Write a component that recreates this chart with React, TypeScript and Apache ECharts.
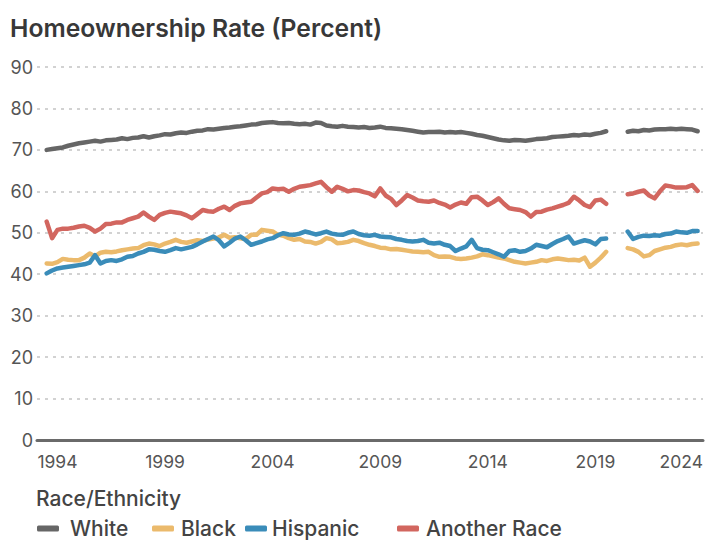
import React, { useEffect, useRef } from "react";
import * as echarts from "echarts";

// ---- data ----
const seriesNames = ["White", "Black", "Hispanic", "Another Race"];
const seriesColors = ["#666666", "#EBBA6C", "#3A8CB9", "#D2665F"];
const tickYears = [1994, 1999, 2004, 2009, 2014, 2019, 2024];

// Quarterly categories 1994Q1 .. 2024Q2
const quarters: string[] = [];
for (let y = 1994; y <= 2024; y++) {
  for (let q = 1; q <= 4; q++) {
    if (y === 2024 && q > 2) break;
    quarters.push(`${y}Q${q}`);
  }
}

const white = [
  70.0, 70.2, 70.4, 70.6,
  71.0, 71.3, 71.6, 71.8,
  72.0, 72.2, 72.0, 72.3,
  72.4, 72.5, 72.8, 72.6,
  72.9, 73.0, 73.3, 73.0,
  73.3, 73.5, 73.8, 73.7,
  74.0, 74.2, 74.1, 74.4,
  74.6, 74.7, 75.0, 74.9,
  75.1, 75.3, 75.4, 75.6,
  75.7, 75.9, 76.1, 76.2,
  76.5, 76.6, 76.7, 76.5,
  76.4, 76.5, 76.3, 76.2,
  76.3, 76.1, 76.6, 76.5,
  75.9, 75.7, 75.6, 75.8,
  75.6, 75.5, 75.4, 75.5,
  75.3, 75.4, 75.6, 75.3,
  75.2, 75.1, 75.0, 74.8,
  74.6, 74.4, 74.2, 74.3,
  74.3, 74.4, 74.2, 74.3,
  74.2, 74.3, 74.1, 73.9,
  73.6, 73.4, 73.1, 72.8,
  72.5, 72.3, 72.2, 72.4,
  72.3, 72.2, 72.4, 72.6,
  72.7, 72.8, 73.1, 73.2,
  73.3, 73.4, 73.6, 73.5,
  73.7, 73.6, 73.9, 74.1,
  74.5, null, null, null,
  74.4, 74.6, 74.5, 74.8,
  74.7, 74.9, 75.0, 75.0,
  75.1, 75.0, 75.1, 75.0,
  74.9, 74.5,
];

const black = [
  42.6, 42.5, 42.9, 43.7,
  43.5, 43.4, 43.4, 44.0,
  45.0, 44.3, 45.2, 45.4,
  45.3, 45.5, 45.8, 46.0,
  46.2, 46.3, 47.0, 47.4,
  47.2, 46.8, 47.4, 47.8,
  48.3, 47.8, 47.6, 47.9,
  48.2, 48.0, 48.4, 48.6,
  48.9, 49.5, 48.8, 48.9,
  48.7, 48.5, 49.5, 49.5,
  50.7, 50.5, 50.3, 49.5,
  49.3, 48.7, 48.3, 48.5,
  47.9, 47.8, 47.4, 47.8,
  48.7, 48.4, 47.5, 47.6,
  47.8, 48.3, 48.0, 47.5,
  47.1, 46.8, 46.4, 46.3,
  46.0, 46.1, 45.9, 45.7,
  45.5, 45.4, 45.3, 45.4,
  44.6, 44.2, 44.3, 44.2,
  43.8, 43.7, 43.8, 44.0,
  44.3, 44.8, 44.6, 44.3,
  44.0, 43.8, 43.4, 43.0,
  42.8, 42.6, 42.8, 43.0,
  43.4, 43.2, 43.6, 43.8,
  43.6, 43.4, 43.5, 43.3,
  44.0, 41.8, 42.8, 44.0,
  45.4, null, null, null,
  46.3, 46.0, 45.4, 44.3,
  44.6, 45.6, 46.0, 46.4,
  46.6, 47.0, 47.2, 47.0,
  47.3, 47.4,
];

const hispanic = [
  40.2, 40.9, 41.4, 41.6,
  41.8, 42.0, 42.2, 42.4,
  42.8, 44.6, 42.6, 43.2,
  43.4, 43.2, 43.6, 44.2,
  44.4, 45.0, 45.4, 46.0,
  45.9, 45.6, 45.4, 45.8,
  46.3, 46.0, 46.3, 46.6,
  47.2, 47.9, 48.5, 49.1,
  48.2, 46.7, 47.6, 48.6,
  49.1, 48.2, 47.1, 47.5,
  47.9, 48.4, 48.7, 49.4,
  49.9, 49.6, 49.5, 49.8,
  50.3, 50.0, 49.6, 49.9,
  50.3, 49.8, 49.6, 49.5,
  50.0, 50.3, 49.7, 49.4,
  49.3, 49.5, 49.1, 49.0,
  48.9, 48.5, 48.3, 48.0,
  47.9, 48.0, 48.3, 47.6,
  47.4, 47.6, 47.1, 46.8,
  45.6, 46.2, 46.7, 48.3,
  46.3, 45.9, 45.8, 45.3,
  44.8, 44.2, 45.6, 45.8,
  45.4, 45.6, 46.2, 47.1,
  46.8, 46.5, 47.3, 48.0,
  48.5, 49.1, 47.4, 47.8,
  48.2, 47.9, 47.2, 48.5,
  48.6, null, null, null,
  50.3, 48.5, 49.0, 49.3,
  49.2, 49.4, 49.3, 49.7,
  49.8, 50.3, 50.1, 50.0,
  50.4, 50.4,
];

const anotherRace = [
  52.7, 48.7, 50.7, 51.0,
  51.0, 51.2, 51.5, 51.7,
  51.2, 50.3, 51.0, 52.1,
  52.2, 52.5, 52.5, 53.1,
  53.5, 53.9, 54.9, 53.9,
  53.1, 54.3, 54.8, 55.1,
  54.9, 54.7, 54.2, 53.5,
  54.5, 55.5, 55.2, 55.1,
  55.8, 56.3, 55.5, 56.5,
  57.1, 57.3, 57.5, 58.5,
  59.5, 59.8, 60.7, 60.5,
  60.6, 59.9, 60.6, 61.1,
  61.3, 61.5, 61.9, 62.3,
  61.0, 59.9, 61.1, 60.6,
  60.0, 60.3, 60.2, 59.8,
  59.5, 58.8, 60.7, 59.0,
  58.2, 56.7, 57.8, 59.1,
  58.5, 57.8, 57.6, 57.5,
  57.8, 57.2, 56.8, 56.1,
  56.8, 57.3, 57.0, 58.6,
  58.7, 57.8, 56.7, 57.4,
  58.3, 57.0, 55.9, 55.7,
  55.5, 55.0, 53.9, 55.0,
  55.1, 55.6, 55.9, 56.3,
  56.7, 57.2, 58.7, 57.8,
  56.7, 56.2, 57.8, 58.0,
  57.0, null, null, null,
  59.3, 59.5, 59.9, 60.2,
  59.0, 58.3, 60.0, 61.4,
  61.2, 60.9, 60.9, 61.0,
  61.5, 60.1,
];

const seriesValues = [white, black, hispanic, anotherRace];

function quarterToYear(q: string): number {
  const [y, qq] = q.split("Q");
  return Number(y) + (Number(qq) - 1) / 4;
}

export default function App() {
  const ref = useRef<HTMLDivElement>(null);

  useEffect(() => {
    if (!ref.current) return;
    const chart = echarts.init(ref.current, null, { renderer: "svg" });
    const font = "Inter, 'Open Sans', sans-serif";
    const xMin = 1993.55;
    const xMax = 2024.5;
    const legendLeft = [32, 147, 240, 392];
    const legendTextPad = [6, 2, 0, 2];

    chart.setOption({
      animation: false,
      backgroundColor: "#ffffff",
      textStyle: { fontFamily: font },
      title: [
        {
          text: "Homeownership Rate (Percent)",
          left: 5,
          top: 10,
          textStyle: { fontFamily: font, fontSize: 24.7, fontWeight: 600, color: "#383838" },
        },
        {
          text: "Race/Ethnicity",
          left: 31,
          top: 483,
          textStyle: { fontFamily: font, fontSize: 21, fontWeight: 500, color: "#444444" },
        },
      ],
      legend: seriesNames.map((n, i) => ({
        data: [n],
        left: legendLeft[i],
        top: 513,
        icon: "roundRect",
        itemWidth: 22,
        itemHeight: 6,
        selectedMode: false,
        textStyle: {
          fontFamily: font,
          fontSize: 21,
          fontWeight: 500,
          color: "#444444",
          padding: [0, 0, 0, legendTextPad[i]],
        },
      })),
      grid: { left: 37, right: 0, top: 67, bottom: 102, containLabel: false },
      xAxis: {
        type: "value",
        min: xMin,
        max: xMax,
        axisLine: { show: true, onZero: false, lineStyle: { color: "#6a6a6a", width: 3 } },
        axisTick: { show: false },
        splitLine: { show: false },
        axisLabel: {
          customValues: tickYears.map((y) => Math.min(y + 0.5, xMax)),
          formatter: (v: number) => String(Math.floor(v)),
          fontFamily: font,
          fontSize: 17.5,
          color: "#555555",
          margin: 12,
          showMaxLabel: true,
          alignMaxLabel: "right",
        },
      },
      yAxis: {
        type: "value",
        min: 0,
        max: 90,
        interval: 10,
        axisLine: { show: false },
        axisTick: { show: false },
        axisLabel: { fontFamily: font, fontSize: 18, color: "#555555", margin: 4 },
        splitLine: {
          lineStyle: { color: "#c4c4c4", width: 1.5, type: [3, 5] },
        },
      },
      series: seriesNames.map((n, i) => ({
        name: n,
        type: "line",
        symbol: "none",
        connectNulls: false,
        color: seriesColors[i],
        lineStyle: { width: 4.5, color: seriesColors[i], cap: "round", join: "round" },
        data: quarters.map((q, k) => [quarterToYear(q), seriesValues[i][k] == null ? "-" : seriesValues[i][k]]),
      })),
    });

    return () => chart.dispose();
  }, []);

  return (
    <div
      ref={ref}
      style={{ position: "fixed", left: 0, top: 0, width: 706, height: 542, background: "#fff" }}
    />
  );
}
